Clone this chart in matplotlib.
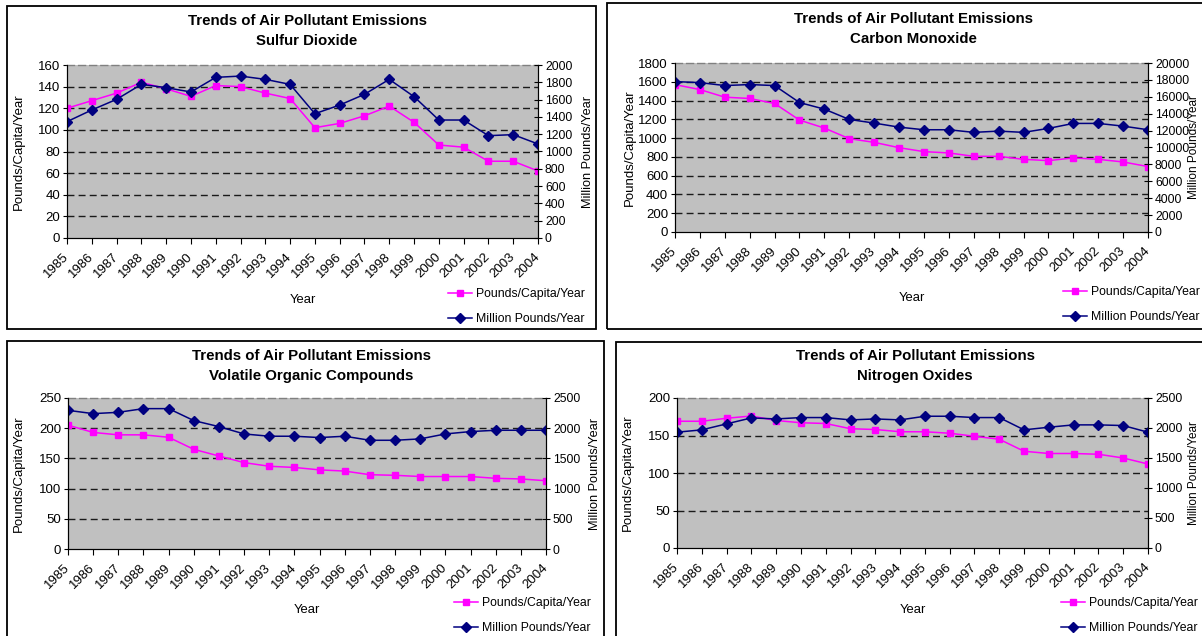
import matplotlib
matplotlib.use("Agg")
import matplotlib.pyplot as plt
from matplotlib import font_manager
from matplotlib.patches import Rectangle

# data
years = list(range(1985, 2005))

so2_per_capita = [120, 127, 134, 144, 138, 131, 141, 140, 134, 129, 102, 106, 113, 122, 107, 86, 84, 71, 71, 62]
so2_million = [1345, 1480, 1603, 1776, 1738, 1688, 1857, 1872, 1834, 1776, 1437, 1537, 1661, 1834, 1634, 1364, 1364, 1183, 1195, 1087]

co_per_capita = [1570, 1517, 1436, 1422, 1369, 1192, 1107, 994, 955, 898, 856, 842, 806, 806, 774, 760, 789, 774, 746, 697]
co_million = [17800, 17680, 17330, 17450, 17330, 15320, 14540, 13320, 12890, 12410, 12100, 12100, 11790, 11940, 11790, 12260, 12850, 12850, 12530, 12100]

voc_per_capita = [205, 193, 189, 189, 185, 165, 154, 143, 137, 135, 131, 129, 123, 122, 120, 120, 120, 117, 116, 113]
voc_million = [2296, 2241, 2263, 2324, 2324, 2126, 2026, 1905, 1867, 1867, 1845, 1867, 1800, 1800, 1823, 1905, 1944, 1966, 1966, 1966]

nox_per_capita = [169, 169, 173, 176, 170, 167, 166, 159, 158, 155, 155, 153, 149, 145, 129, 126, 126, 125, 120, 112]
nox_million = [1930, 1969, 2069, 2168, 2151, 2174, 2174, 2135, 2151, 2135, 2196, 2196, 2174, 2174, 1969, 2013, 2052, 2052, 2041, 1930]

series_names = ["Pounds/Capita/Year", "Million Pounds/Year"]
title_top = "Trends of Air Pollutant Emissions"

plt.rcParams["font.family"] = "Liberation Sans"
try:
    font_manager.findfont("Liberation Sans Narrow", fallback_to_default=False)
    narrow = "Liberation Sans Narrow"
    title_size, legend_size, xlab_size = 12.5, 10.5, 11
except ValueError:
    narrow = "Liberation Sans"
    title_size, legend_size, xlab_size = 10.8, 8.8, 9.4

W, H = 1202, 636
fig = plt.figure(figsize=(W / 100, H / 100), dpi=100)


def fx(x):
    return x / W


def fy(y):
    return 1 - y / H


def draw_panel(frame, box, name, per_capita, million, left_max, left_step,
               right_max, right_step, title_c, legend_tl, xlab_y, ylab_x,
               rlab_size=9.2):
    # panel border
    l, t, r, b = frame
    fig.patches.append(Rectangle((fx(l), fy(b)), fx(r - l), (b - t) / H,
                                 transform=fig.transFigure, fill=False,
                                 edgecolor="black", lw=1.3))
    l, t, r, b = box
    ax = fig.add_axes([fx(l), fy(b), fx(r - l), (b - t) / H])
    ax.set_facecolor("#C0C0C0")
    ax.set_xlim(years[0], years[-1])
    ax.set_ylim(0, left_max)
    yt = list(range(0, left_max + 1, left_step))
    ax.set_yticks(yt)
    for v in yt[1:-1]:
        ax.axhline(v, color="#1a1a1a", lw=1.0, dashes=(5, 3), zorder=0.5)
    ax.spines["top"].set_color("#808080")
    ax.spines["top"].set_linestyle((0, (5, 3)))
    ax.spines["top"].set_linewidth(1.0)
    ax.set_xticks(years)
    ax.set_xticklabels([str(y) for y in years], rotation=45, ha="right",
                       va="center", rotation_mode="anchor")
    ax.tick_params(axis="x", direction="out", length=4, pad=8, labelsize=9.5)
    ax.tick_params(axis="y", direction="out", length=3, pad=2, labelsize=9.5)
    l1, = ax.plot(years, per_capita, color="#FF00FF", lw=1.1, marker="s",
                  ms=5, mec="#FF00FF", mfc="#FF00FF")

    ax2 = ax.twinx()
    ax2.set_ylim(0, right_max)
    ax2.set_yticks(range(0, right_max + 1, right_step))
    ax2.tick_params(axis="y", direction="inout", length=6, pad=2, labelsize=8.8)
    ax2.spines["top"].set_visible(False)
    l2, = ax2.plot(years, million, color="#000080", lw=1.1, marker="D",
                   ms=5.5, mec="#000080", mfc="#000080")

    ax.set_ylabel(series_names[0], fontsize=9.5)
    ax2.set_ylabel(series_names[1], fontsize=rlab_size)
    # left label: x is its centre; right label: x is its left edge
    ax.yaxis.set_label_coords((ylab_x[0] + 6 - l) / (r - l), 0.5)
    ax2.yaxis.set_label_coords((ylab_x[1] - l) / (r - l), 0.5)
    ax.set_xlabel("Year", family=narrow, fontsize=xlab_size)
    ax.xaxis.set_label_coords(0.5, (b - xlab_y + 6) / (b - t))

    fig.text(fx(title_c[0]), fy(title_c[1]), title_top + "\n" + name,
             ha="center", va="center", family=narrow, fontweight="bold",
             fontsize=title_size, linespacing=1.5)

    fig.legend([l1, l2], series_names, loc="upper left",
               bbox_to_anchor=(fx(legend_tl[0]), fy(legend_tl[1])),
               frameon=False, borderpad=0, borderaxespad=0, handlelength=2.0,
               handletextpad=0.3, labelspacing=1.05,
               prop={"family": narrow, "size": legend_size})
    return ax


draw_panel((7, 6, 596, 329), (67, 65, 538, 238), "Sulfur Dioxide",
           so2_per_capita, so2_million, 160, 20, 2000, 200,
           (307, 31), (448, 288), 300, (19, 582))
draw_panel((607, 3, 1215, 329), (675, 63, 1148, 232), "Carbon Monoxide",
           co_per_capita, co_million, 1800, 200, 20000, 2000,
           (913, 29), (1063, 286), 298, (630, 1188), 8.5)
draw_panel((7, 341, 604, 650), (68, 398, 546, 549), "Volatile Organic Compounds",
           voc_per_capita, voc_million, 250, 50, 2500, 500,
           (311, 366), (454, 597), 610, (19, 589))
draw_panel((616, 342, 1215, 650), (677, 398, 1148, 548), "Nitrogen Oxides",
           nox_per_capita, nox_million, 200, 50, 2500, 500,
           (915, 366), (1061, 597), 610, (628, 1188), 8.5)

fig.savefig("out.png", dpi=100)
